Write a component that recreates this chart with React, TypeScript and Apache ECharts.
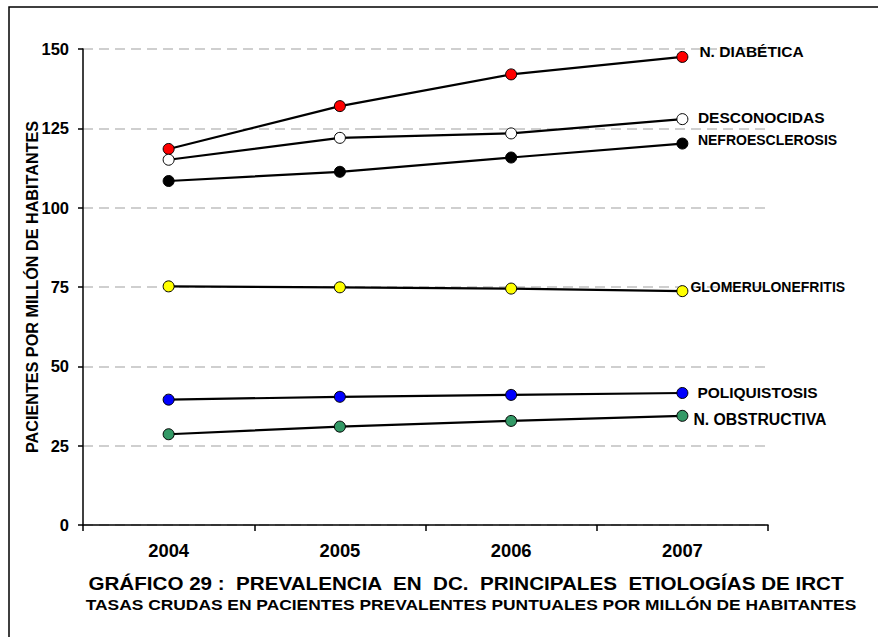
import React, { useEffect, useRef } from "react";
import * as echarts from "echarts";

const years = ["2004", "2005", "2006", "2007"];
const yTicks = [0, 25, 50, 75, 100, 125, 150];

const diabetica = [118.5, 132.0, 142.0, 147.5];
const desconocidas = [115.1, 122.0, 123.4, 127.9];
const nefroesclerosis = [108.4, 111.3, 115.8, 120.2];
const glomerulonefritis = [75.2, 74.9, 74.5, 73.7];
const poliquistosis = [39.5, 40.4, 41.0, 41.6];
const obstructiva = [28.6, 31.0, 32.8, 34.4];

const seriesNames = [
  "N. DIABÉTICA",
  "DESCONOCIDAS",
  "NEFROESCLEROSIS",
  "GLOMERULONEFRITIS",
  "POLIQUISTOSIS",
  "N. OBSTRUCTIVA",
];
const seriesValues = [diabetica, desconocidas, nefroesclerosis, glomerulonefritis, poliquistosis, obstructiva];
const seriesColors = ["#ff0000", "#ffffff", "#000000", "#ffff00", "#0000ff", "#339966"];
const labelDistance = [11, 9.5, 9.5, 2, 9, 5];
const labelDy = [-5, -2, -4, -4, 0, 4];
const labelSize = [15.5, 15.5, 14, 14, 15.5, 15.8];

const FONT = "'Liberation Sans', Arial, sans-serif";

export default function App() {
  const ref = useRef<HTMLDivElement>(null);
  useEffect(() => {
    document.body.style.margin = "0";
    const chart = echarts.init(ref.current!, null, { renderer: "svg" });
    const last = years.length - 1;
    chart.setOption({
      animation: false,
      backgroundColor: "#ffffff",
      textStyle: { fontFamily: FONT },
      grid: { left: 83, top: 49, right: 110, bottom: 112 },
      xAxis: {
        type: "category",
        data: years,
        boundaryGap: true,
        axisLine: { lineStyle: { color: "#000", width: 1.5 } },
        axisTick: { show: true, alignWithLabel: false, length: 6, lineStyle: { color: "#000", width: 1.5 } },
        axisLabel: { color: "#000", fontWeight: "bold", fontSize: 18.4, fontFamily: FONT, margin: 16 },
        splitLine: { show: false },
      },
      yAxis: {
        type: "value",
        min: 0,
        max: 150,
        interval: 25,
        name: "PACIENTES POR MILLÓN DE HABITANTES",
        nameLocation: "middle",
        nameRotate: 90,
        nameGap: 43,
        nameMoveOverlap: false,
        nameTextStyle: { color: "#000", fontWeight: "bold", fontSize: 16.2, fontFamily: FONT },
        axisLine: { show: true, lineStyle: { color: "#000", width: 1.5 } },
        axisTick: { show: true, length: 5, lineStyle: { color: "#000", width: 1.5 } },
        axisLabel: {
          color: "#000",
          fontWeight: "bold",
          fontSize: 16.5,
          fontFamily: FONT,
          margin: 14,
          formatter: (v: number) => (yTicks.includes(v) ? String(v) : ""),
        },
        splitLine: { show: true, lineStyle: { color: "#c0c0c0", width: 1.5, type: [10, 6] } },
      },
      graphic: [
        {
          type: "rect",
          shape: { x: 9, y: 7, width: 900, height: 700 },
          style: { fill: "none", stroke: "#000", lineWidth: 1.5 },
          silent: true,
        },
        {
          type: "text",
          x: 466,
          y: 583,
          scaleX: 1.114,
          style: {
            text: "GRÁFICO 29 :  PREVALENCIA  EN  DC.  PRINCIPALES  ETIOLOGÍAS DE IRCT",
            fill: "#000",
            font: `bold 18.5px ${FONT}`,
            align: "center",
            verticalAlign: "middle",
          },
        },
        {
          type: "text",
          x: 471,
          y: 604,
          scaleX: 1.16,
          style: {
            text: "TASAS CRUDAS EN PACIENTES PREVALENTES PUNTUALES POR MILLÓN DE HABITANTES",
            fill: "#000",
            font: `bold 15px ${FONT}`,
            align: "center",
            verticalAlign: "middle",
          },
        },
      ],
      series: seriesNames.map((name, s) => ({
        name,
        type: "line",
        symbol: "circle",
        symbolSize: 11,
        lineStyle: { color: "#000", width: 2.2 },
        itemStyle: { color: seriesColors[s], borderColor: "#000", borderWidth: 1 },
        emphasis: { disabled: true },
        data: seriesValues[s].map((v, i) =>
          i === last
            ? {
                value: v,
                label: {
                  show: true,
                  position: "right",
                  distance: labelDistance[s],
                  offset: [0, labelDy[s]],
                  formatter: name,
                  color: "#000",
                  fontWeight: "bold",
                  fontSize: labelSize[s],
                  fontFamily: FONT,
                },
              }
            : v
        ),
      })),
    });
    return () => chart.dispose();
  }, []);
  return <div ref={ref} style={{ width: 878, height: 637 }} />;
}
